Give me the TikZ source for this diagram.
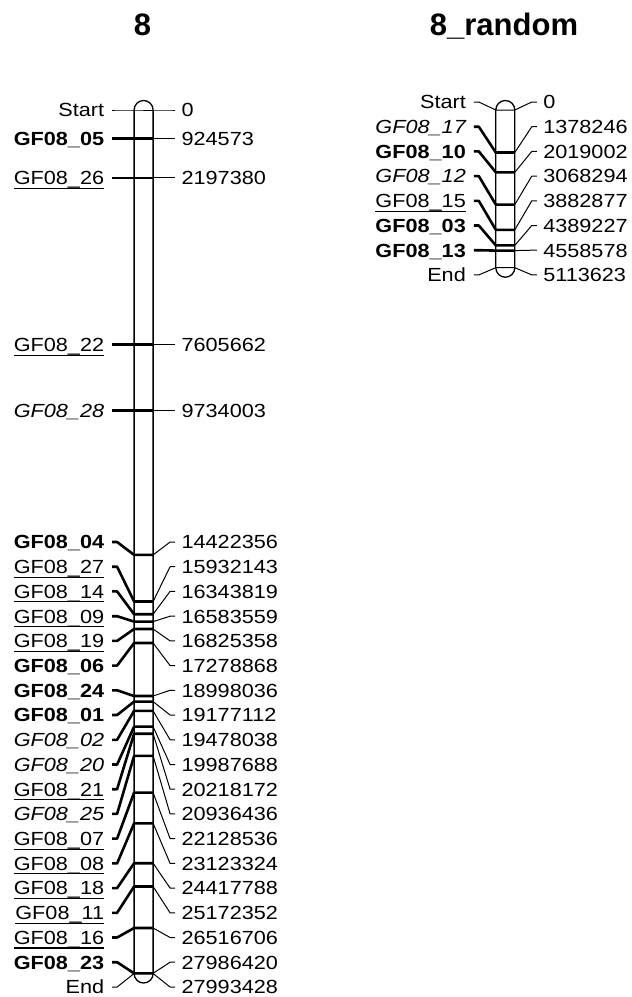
\documentclass[tikz,border=0pt]{standalone}
\usepackage{fontspec}
\setmainfont{Liberation Sans}
\newfontfamily\lblfont[FakeStretch=1.14]{Liberation Sans}
\tikzset{
  lab/.style={inner sep=0pt,outer sep=0pt,font=\lblfont\fontsize{19}{22}\selectfont},
  ttl/.style={inner sep=0pt,font=\fontsize{31}{36}\selectfont\bfseries,anchor=base},
  mk/.style={line width=2.6pt,line join=round},
  thn/.style={line width=1pt,line join=round},
  ul/.style={line width=1.1pt},
  chr/.style={line width=1.3pt,fill=white}
}
\newcommand\chrmk[9]{%
  \coordinate (#1L) at ({#2-9.5},#3);
  \coordinate (#1R) at ({#2+9.5},#3);
  \coordinate (#1a) at ({#2-31.5},#4);
  \coordinate (#1b) at ({#2-26.5},#4);
  \coordinate (#1c) at ({#2+26.5},#4);
  \coordinate (#1d) at ({#2+31.5},#4);
  \node[lab,anchor=base east] (#1n) at ({#2-39.5},{#4+6.8}) {#5#6};
  \node[lab,anchor=base west] (#1v) at ({#2+38},{#4+6.8}) {#7};
  \draw[#9] (#1a) -- (#1b) -- (#1L) -- (#1R);
  \draw[thn] (#1R) -- (#1c) -- (#1d);
  \ifnum#8=1 \draw[ul] ([yshift=-3.7pt]#1n.base west) -- ([yshift=-3.7pt]#1n.base east);\fi
}
\begin{document}
\begin{tikzpicture}[x=1pt,y=-1pt]
\useasboundingbox (0,0) rectangle (632,997);
% titles
\node[ttl] (t1) at (142.5,35) {8};
\node[ttl] (t2) at (504,35) {8\_random};
% chromosomes
\draw[chr] (134.1,973.5) -- (134.1,110) arc[start angle=180,end angle=360,radius=9.5] -- (153.1,973.5) arc[start angle=0,end angle=180,radius=9.5] -- cycle;
\draw[chr] (495.8,267.7) -- (495.8,110) arc[start angle=180,end angle=360,radius=9.5] -- (514.8,267.7) arc[start angle=0,end angle=180,radius=9.5] -- cycle;
% left chromosome markers
\chrmk{s1}{143.6}{110}{110}{\relax}{Start}{0}{0}{thn}
\chrmk{m05}{143.6}{138.5}{138.5}{\bfseries}{GF08\_05}{924573}{0}{mk}
\chrmk{m26}{143.6}{177.8}{177.8}{\relax}{GF08\_26}{2197380}{1}{mk}
\chrmk{m22}{143.6}{344.6}{344.6}{\relax}{GF08\_22}{7605662}{1}{mk}
\chrmk{m28}{143.6}{410.3}{410.3}{\itshape}{GF08\_28}{9734003}{0}{mk}
\chrmk{m04}{143.6}{554.9}{542.0}{\bfseries}{GF08\_04}{14422356}{0}{mk}
\chrmk{m27}{143.6}{601.5}{566.7}{\relax}{GF08\_27}{15932143}{1}{mk}
\chrmk{m14}{143.6}{614.2}{591.4}{\relax}{GF08\_14}{16343819}{1}{mk}
\chrmk{m09}{143.6}{621.6}{616.2}{\relax}{GF08\_09}{16583559}{1}{mk}
\chrmk{m19}{143.6}{629.0}{640.9}{\relax}{GF08\_19}{16825358}{1}{mk}
\chrmk{m06}{143.6}{643.0}{665.6}{\bfseries}{GF08\_06}{17278868}{0}{mk}
\chrmk{m24}{143.6}{696.0}{690.3}{\bfseries}{GF08\_24}{18998036}{0}{mk}
\chrmk{m01}{143.6}{701.6}{715.0}{\bfseries}{GF08\_01}{19177112}{0}{mk}
\chrmk{m02}{143.6}{710.9}{739.8}{\itshape}{GF08\_02}{19478038}{0}{mk}
\chrmk{m20}{143.6}{726.6}{764.5}{\itshape}{GF08\_20}{19987688}{0}{mk}
\chrmk{m21}{143.6}{733.7}{789.2}{\relax}{GF08\_21}{20218172}{1}{mk}
\chrmk{m25}{143.6}{755.8}{813.9}{\itshape}{GF08\_25}{20936436}{0}{mk}
\chrmk{m07}{143.6}{792.6}{838.6}{\relax}{GF08\_07}{22128536}{1}{mk}
\chrmk{m08}{143.6}{823.3}{863.4}{\relax}{GF08\_08}{23123324}{1}{mk}
\chrmk{m18}{143.6}{863.2}{888.1}{\relax}{GF08\_18}{24417788}{1}{mk}
\chrmk{m11}{143.6}{886.5}{912.8}{\relax}{GF08\_11}{25172352}{1}{mk}
\chrmk{m16}{143.6}{928.0}{937.5}{\relax}{GF08\_16}{26516706}{1}{mk}
\chrmk{m23}{143.6}{973.3}{962.2}{\bfseries}{GF08\_23}{27986420}{0}{mk}
\chrmk{e1}{143.6}{973.5}{987.0}{\relax}{End}{27993428}{0}{thn}
% right chromosome markers
\chrmk{s2}{505.3}{110}{102}{\relax}{Start}{0}{0}{thn}
\chrmk{r17}{505.3}{152.5}{126.7}{\itshape}{GF08\_17}{1378246}{0}{mk}
\chrmk{r10}{505.3}{172.3}{151.4}{\bfseries}{GF08\_10}{2019002}{0}{mk}
\chrmk{r12}{505.3}{204.6}{176.1}{\itshape}{GF08\_12}{3068294}{0}{mk}
\chrmk{r15}{505.3}{229.8}{200.8}{\relax}{GF08\_15}{3882877}{1}{mk}
\chrmk{r03}{505.3}{245.4}{225.5}{\bfseries}{GF08\_03}{4389227}{0}{mk}
\chrmk{r13}{505.3}{250.6}{250.2}{\bfseries}{GF08\_13}{4558578}{0}{mk}
\chrmk{e2}{505.3}{267.7}{274.9}{\relax}{End}{5113623}{0}{thn}
\end{tikzpicture}
\end{document}
